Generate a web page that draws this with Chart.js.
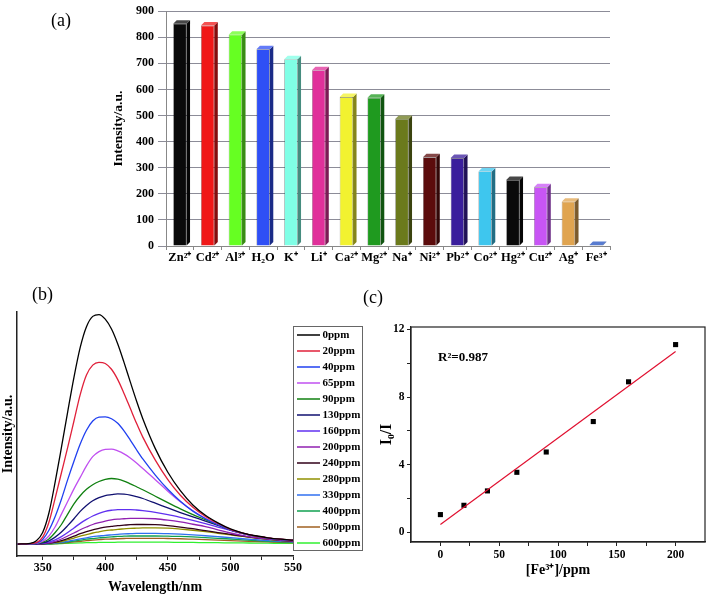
<!DOCTYPE html>
<html>
<head>
<meta charset="utf-8">
<script src="https://cdn.jsdelivr.net/npm/chart.js@4.4.1/dist/chart.umd.min.js"></script>
<style>
  html, body { margin: 0; padding: 0; background: #fff; }
  #wrap { position: relative; width: 709px; height: 599px; overflow: hidden; background: #fff; }
  #wrap canvas { position: absolute; left: 0; top: 0; }
  .plab { position: absolute; font-family: "Liberation Serif", "Times New Roman", serif; font-size: 18px; color: #000; }
</style>
</head>
<body>
<div id="wrap">
  <canvas id="cA" width="709" height="599"></canvas>
  <canvas id="cB" width="709" height="599"></canvas>
  <canvas id="cC" width="709" height="599"></canvas>
  <div class="plab" style="left:51px;top:10px;">(a)</div>
  <div class="plab" style="left:32px;top:284px;">(b)</div>
  <div class="plab" style="left:363px;top:287px;">(c)</div>
</div>
<script>
// ---------- Panel (a) data ----------
const ionLabels = ['Zn²⁺','Cd²⁺','Al³⁺','H₂O','K⁺','Li⁺','Ca²⁺','Mg²⁺','Na⁺','Ni²⁺','Pb²⁺','Co²⁺','Hg²⁺','Cu²⁺','Ag⁺','Fe³⁺'];
const ionIntensity = [852, 845, 810, 754, 716, 674, 571, 568, 487, 340, 337, 286, 253, 225, 170, 4];
const ionColors = ['#0a0a0a','#f01818','#66ff22','#2f4ff5','#80ffe6','#e0309a','#f2f230','#1f9a1f','#6b7a1c','#5c0c0c','#3a1e9c','#3ec6ee','#0a0a0a','#c855f5','#e0a450','#2050c0'];
const yTicksA = [0,100,200,300,400,500,600,700,800,900];

// ---------- Panel (b) data ----------
const wavelengths = [330,340,345,350,355,360,365,370,375,380,385,390,395,400,405,410,415,420,425,430,440,450,460,470,480,490,500,510,520,530,540,550];
const concLabels = ['0ppm','20ppm','40ppm','65ppm','90ppm','130ppm','160ppm','200ppm','240ppm','280ppm','330ppm','400ppm','500ppm','600ppm'];
const concColors = ['#000000','#e0203a','#2040f0','#c050f0','#108010','#101070','#6030f0','#9020b0','#300018','#909000','#3070f0','#10a050','#a06020','#30f030'];
const s0ppm   = [0,3,14,50,135,270,420,575,725,855,945,990,998,978,935,870,790,705,622,545,415,312,232,170,125,92,66,48,36,27,21,17];
const s20ppm  = [0,2,6,30,95,200,310,420,535,650,735,778,790,785,760,715,655,590,525,465,365,280,212,160,120,90,64,47,35,27,21,17];
const s40ppm  = [0,1,4,20,60,120,195,280,360,435,495,535,552,553,545,525,492,452,410,370,300,238,186,143,110,84,62,46,34,26,20,16];
const s65ppm  = [0,1,3,12,35,75,130,185,240,290,340,380,402,412,413,405,392,374,352,328,280,230,184,145,112,86,63,46,34,26,20,16];
const s90ppm  = [0,0,2,8,22,50,85,130,175,210,238,258,272,281,285,282,274,262,249,236,208,180,153,128,106,84,62,46,34,26,20,16];
const s130ppm = [0,0,1,5,14,30,52,80,110,142,168,188,202,211,215,218,217,213,206,198,178,157,137,118,100,81,62,46,34,26,20,16];
const s160ppm = [0,0,1,3,8,18,32,50,70,90,107,122,133,142,147,150,150,150,148,145,138,128,116,103,89,74,59,45,34,26,20,16];
const s200ppm = [0,0,0,2,5,12,22,35,48,62,74,85,93,100,105,108,110,112,112,112,110,104,96,86,76,62,48,37,28,22,16,13];
const s240ppm = [0,0,0,1,4,8,15,24,34,45,54,62,68,74,77,80,82,84,85,85,84,80,74,67,58,50,42,34,27,21,16,12];
const s280ppm = [0,0,0,1,3,6,11,18,26,34,41,48,53,58,61,64,66,68,69,70,70,69,65,60,54,47,40,33,26,20,15,12];
const s330ppm = [0,0,0,0,2,4,7,12,17,22,27,32,35,38,40,42,44,45,46,46,46,45,43,40,36,32,28,23,19,15,12,10];
const s400ppm = [0,0,0,0,1,3,5,9,13,17,21,24,27,29,31,33,34,35,35,35,35,34,33,31,28,25,22,18,15,12,10,8];
const s500ppm = [0,0,0,0,1,2,4,6,9,12,15,17,19,21,22,23,24,25,25,25,25,24,23,21,19,17,15,13,11,9,7,6];
const s600ppm = [0,0,0,0,0,1,2,3,4,5,6,6,7,7,7,8,8,8,8,8,8,8,7,7,6,6,5,5,4,4,3,3];
const spectra = [s0ppm,s20ppm,s40ppm,s65ppm,s90ppm,s130ppm,s160ppm,s200ppm,s240ppm,s280ppm,s330ppm,s400ppm,s500ppm,s600ppm];
const xTicksB = [350,375,400,425,450,475,500,525,550];

// ---------- Panel (c) data ----------
const feConc = [0, 20, 40, 65, 90, 130, 160, 200];
const ratioI0I = [1.05, 1.6, 2.45, 3.55, 4.75, 6.55, 8.9, 11.1];
const fitX = [0, 200];
const fitY = [0.47, 10.69];
const r2Text = 'R²=0.987';
const r2Pos = [-2, 10.3];
const xTicksC = [0,25,50,75,100,125,150,175,200];
const yTicksC = [0,2,4,6,8,10,12];

const SERIF = '"Liberation Serif", "Times New Roman", serif';
Chart.defaults.font.family = SERIF;
Chart.defaults.color = '#000';

// ---------- helpers ----------
function shade(hex, f) {
  const n = parseInt(hex.slice(1), 16);
  let r = (n >> 16) & 255, g = (n >> 8) & 255, b = n & 255;
  if (f < 0) { r = Math.round(r * (1 + f)); g = Math.round(g * (1 + f)); b = Math.round(b * (1 + f)); }
  else { r = Math.round(r + (255 - r) * f); g = Math.round(g + (255 - g) * f); b = Math.round(b + (255 - b) * f); }
  return `rgb(${r},${g},${b})`;
}

const bar3d = {
  id: 'bar3d',
  afterDatasetsDraw(chart) {
    const ctx = chart.ctx;
    const meta = chart.getDatasetMeta(0);
    const colors = chart.data.datasets[0].backgroundColor;
    const d = 3.5;
    ctx.save();
    meta.data.forEach((el, i) => {
      const {x, y, base, width} = el.getProps(['x','y','base','width'], true);
      const l = x - width / 2, r = x + width / 2;
      ctx.fillStyle = shade(colors[i], -0.45);
      ctx.beginPath();
      ctx.moveTo(r, y); ctx.lineTo(r + d, y - d); ctx.lineTo(r + d, base - d); ctx.lineTo(r, base); ctx.closePath();
      ctx.fill();
      ctx.fillStyle = shade(colors[i], 0.25);
      ctx.beginPath();
      ctx.moveTo(l, y); ctx.lineTo(l + d, y - d); ctx.lineTo(r + d, y - d); ctx.lineTo(r, y); ctx.closePath();
      ctx.fill();
    });
    ctx.restore();
  }
};

// ---------- Chart (a) ----------
new Chart(document.getElementById('cA'), {
  type: 'bar',
  data: {
    labels: ionLabels,
    datasets: [{
      data: ionIntensity,
      backgroundColor: ionColors,
      borderColor: 'rgba(0,0,0,0.55)',
      borderWidth: 0.6,
      barPercentage: 0.48,
      categoryPercentage: 1
    }]
  },
  options: {
    responsive: false, animation: false,
    layout: { padding: { left: 106, right: 99, top: 10, bottom: 328 } },
    plugins: { legend: { display: false }, tooltip: { enabled: false } },
    scales: {
      x: {
        grid: { display: true, drawOnChartArea: false, tickLength: 4, color: '#888' },
        border: { color: '#888' },
        ticks: { color: '#000', font: { family: SERIF, weight: 'bold', size: 12.5 }, padding: 0, maxRotation: 0, autoSkip: false },
        afterFit: s => { s.height = 25; }
      },
      y: {
        min: 0, max: 900,
        afterBuildTicks: s => { s.ticks = yTicksA.map(v => ({ value: v })); },
        ticks: { color: '#000', font: { family: SERIF, weight: 'bold', size: 12 }, padding: 4 },
        grid: { color: '#8c8c98', tickLength: 8 },
        border: { color: '#888' },
        title: { display: true, text: 'Intensity/a.u.', color: '#000', font: { family: SERIF, weight: 'bold', size: 13.5 }, padding: { top: 4, bottom: 4 } },
        afterFit: s => { s.width = 60; }
      }
    }
  },
  plugins: [bar3d]
});

// ---------- Chart (b) ----------
const legendB = {
  id: 'legendB',
  afterDraw(chart) {
    const ctx = chart.ctx;
    ctx.save();
    ctx.strokeStyle = '#666';
    ctx.lineWidth = 1;
    ctx.strokeRect(293.5, 326.5, 69, 224);
    ctx.font = 'bold 11px ' + SERIF;
    ctx.textBaseline = 'middle';
    const ds = chart.data.datasets.slice().sort((a, b) => a.order - b.order);
    ds.forEach((d, i) => {
      const y = 335 + i * 16;
      ctx.strokeStyle = d.borderColor;
      ctx.lineWidth = 1.5;
      ctx.beginPath(); ctx.moveTo(297, y); ctx.lineTo(320, y); ctx.stroke();
      ctx.fillStyle = '#000';
      ctx.fillText(d.label, 322.5, y + 0.5);
    });
    ctx.restore();
  }
};

new Chart(document.getElementById('cB'), {
  type: 'line',
  data: {
    datasets: spectra.map((s, i) => ({
      label: concLabels[i],
      order: i,
      data: wavelengths.map((w, j) => ({ x: w, y: s[j] })),
      borderColor: concColors[i],
      borderWidth: 1.3,
      pointRadius: 0,
      fill: false,
      cubicInterpolationMode: 'monotone'
    }))
  },
  options: {
    responsive: false, animation: false,
    layout: { padding: { left: 0, right: 416, top: 312, bottom: 3.6 } },
    plugins: { legend: { display: false }, tooltip: { enabled: false } },
    scales: {
      x: {
        type: 'linear', min: 329.5, max: 550,
        afterBuildTicks: s => { s.ticks = xTicksB.map(v => ({ value: v })); },
        ticks: { color: '#000', font: { family: SERIF, weight: 'bold', size: 12 }, padding: 1, maxRotation: 0, autoSkip: false,
                 callback: v => (v % 50 === 0 ? String(v) : '') },
        grid: { display: true, drawOnChartArea: false, tickLength: 4, color: '#222' },
        border: { color: '#222', width: 1.5 },
        title: { display: true, text: 'Wavelength/nm', color: '#000', font: { family: SERIF, weight: 'bold', size: 14 }, padding: 0 },
        afterFit: s => { s.height = 39.4; }
      },
      y: {
        min: -52, max: 1009,
        ticks: { display: false },
        grid: { display: false },
        border: { color: '#222', width: 1.5 },
        title: { display: true, text: 'Intensity/a.u.', color: '#000', font: { family: SERIF, weight: 'bold', size: 14 }, padding: 0 },
        afterFit: s => { s.width = 17; }
      }
    }
  },
  plugins: [legendB]
});

// ---------- Chart (c) ----------
const frameC = {
  id: 'frameC',
  afterDraw(chart) {
    const {ctx, chartArea: a, scales} = chart;
    ctx.save();
    ctx.strokeStyle = '#222';
    ctx.lineWidth = 1.2;
    ctx.strokeRect(a.left, a.top, a.right - a.left, a.bottom - a.top);
    ctx.fillStyle = '#000';
    ctx.font = 'bold 13px ' + SERIF;
    ctx.textBaseline = 'middle';
    ctx.fillText(r2Text, scales.x.getPixelForValue(r2Pos[0]), scales.y.getPixelForValue(r2Pos[1]));
    ctx.restore();
  }
};

new Chart(document.getElementById('cC'), {
  type: 'scatter',
  data: {
    datasets: [
      {
        type: 'line',
        data: fitX.map((x, i) => ({ x, y: fitY[i] })),
        borderColor: '#e01030', borderWidth: 1.2, pointRadius: 0, fill: false
      },
      {
        data: feConc.map((x, i) => ({ x, y: ratioI0I[i] })),
        pointStyle: 'rect', pointRadius: 3.6, backgroundColor: '#000', borderColor: '#000', borderWidth: 0
      }
    ]
  },
  options: {
    responsive: false, animation: false,
    layout: { padding: { left: 371, right: 3, top: 327, bottom: 20.6 } },
    plugins: { legend: { display: false }, tooltip: { enabled: false } },
    scales: {
      x: {
        type: 'linear', min: -25, max: 225,
        afterBuildTicks: s => { s.ticks = xTicksC.map(v => ({ value: v })); },
        ticks: { color: '#000', font: { family: SERIF, weight: 'bold', size: 11.5 }, padding: 2, maxRotation: 0, autoSkip: false,
                 callback: v => (v % 50 === 0 ? String(v) : '') },
        grid: { display: true, drawOnChartArea: false, tickLength: 4, color: '#222' },
        border: { color: '#222', width: 1.2 },
        title: { display: true, text: '[Fe³⁺]/ppm', color: '#000', font: { family: SERIF, weight: 'bold', size: 14 }, padding: 0 },
        afterFit: s => { s.height = 36.4; }
      },
      y: {
        type: 'linear', min: -0.57, max: 12.14,
        afterBuildTicks: s => { s.ticks = yTicksC.map(v => ({ value: v })); },
        ticks: { color: '#000', font: { family: SERIF, weight: 'bold', size: 11.5 }, padding: 2.5, autoSkip: false,
                 callback: v => (v % 4 === 0 ? String(v) : '') },
        grid: { display: true, drawOnChartArea: false, tickLength: 4, color: '#222' },
        border: { color: '#222', width: 1.2 },
        title: { display: true, text: 'I₀/I', color: '#000', font: { family: SERIF, weight: 'bold', size: 16 }, padding: 6 },
        afterFit: s => { s.width = 40; }
      }
    }
  },
  plugins: [frameC]
});
</script>
</body>
</html>
